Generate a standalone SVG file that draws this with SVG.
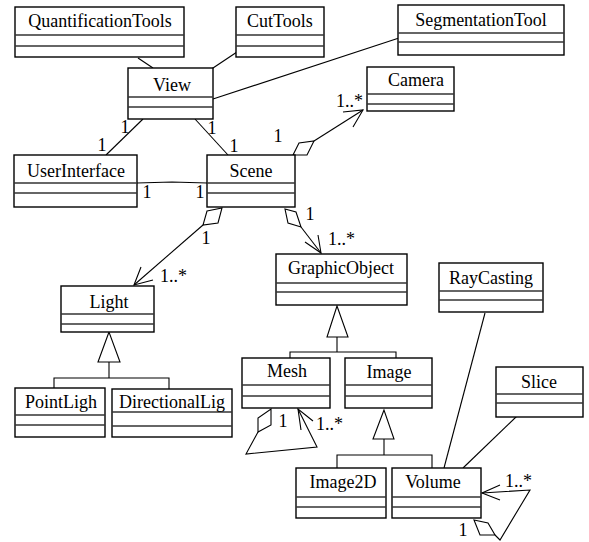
<svg xmlns="http://www.w3.org/2000/svg" width="589" height="542" viewBox="0 0 589 542">
<style>
.box{fill:#fff;stroke:#000;stroke-width:1.4}
.sep{stroke:#333;stroke-width:1.3}
.nm{font-family:"Liberation Serif","Times New Roman",serif;font-size:18px;text-anchor:middle;fill:#000}
.lb{font-family:"Liberation Serif","Times New Roman",serif;font-size:18px;fill:#000}
.c{fill:none;stroke:#000;stroke-width:1.1}
.d{fill:#fff;stroke:#000;stroke-width:1.1}
</style>
<rect width="589" height="542" fill="#fff"/>
<g id="connectors">
  <line class="c" x1="138" y1="58" x2="153" y2="68"/>
  <line class="c" x1="237" y1="52" x2="210" y2="70"/>
  <line class="c" x1="399" y1="38" x2="213" y2="99"/>
  <line class="c" x1="143" y1="119" x2="106" y2="155"/>
  <line class="c" x1="195" y1="119" x2="228" y2="155"/>
  <polyline class="c" points="137,183 172,182 207,183"/>
  <!-- Scene to Camera -->
  <polygon class="d" points="293,155 299,143 314,141 307,155"/>
  <line class="c" x1="314" y1="141" x2="363" y2="110"/>
  <polyline class="c" points="343,112 363,110 353,127"/>
  <!-- Scene to Light -->
  <polygon class="d" points="207,211 222,208 218,223 203,225"/>
  <line class="c" x1="203" y1="225" x2="134" y2="285"/>
  <polyline class="c" points="141,267 134,285 153,280"/>
  <!-- Scene to GraphicObject -->
  <polygon class="d" points="285,209 296,212 301,227 288,223"/>
  <line class="c" x1="301" y1="227" x2="321" y2="253"/>
  <polyline class="c" points="305,242 321,253 318,235"/>
  <!-- Light generalization -->
  <polygon class="d" points="109,332 98,362 120,362"/>
  <polyline class="c" points="109,362 109,378"/>
  <polyline class="c" points="54,388 54,378 169,378 169,389"/>
  <!-- GraphicObject generalization -->
  <polygon class="d" points="337,306 327,337 348,337"/>
  <polyline class="c" points="337,337 337,352"/>
  <polyline class="c" points="290,358 290,352 396,352 396,358"/>
  <!-- Image generalization -->
  <polygon class="d" points="384,410 373,439 394,439"/>
  <polyline class="c" points="384,439 384,455"/>
  <polyline class="c" points="337,468 337,455 432,455 432,468"/>
  <!-- Mesh self -->
  <polygon class="d" points="271,409 271,425 258,432 258,418"/>
  <polyline class="c" points="258,432 246,454 317,447 298,409"/>
  <polyline class="c" points="301,430 298,409 313,421"/>
  <!-- Volume links -->
  <line class="c" x1="485" y1="313" x2="444" y2="468"/>
  <line class="c" x1="517" y1="416" x2="463" y2="468"/>
  <!-- Volume self -->
  <polygon class="d" points="474,520 488,523 495,535 480,535"/>
  <polyline class="c" points="495,535 500,540 530,490 482,493"/>
  <polyline class="c" points="500,485 482,493 500,500"/>
  <!-- labels -->
  <text class="lb" x="125" y="133" text-anchor="middle">1</text>
  <text class="lb" x="102" y="151" text-anchor="middle">1</text>
  <text class="lb" x="212" y="134" text-anchor="middle">1</text>
  <text class="lb" x="234" y="152" text-anchor="middle">1</text>
  <text class="lb" x="147" y="198" text-anchor="middle">1</text>
  <text class="lb" x="200" y="198" text-anchor="middle">1</text>
  <text class="lb" x="278" y="142" text-anchor="middle">1</text>
  <text class="lb" x="336" y="107">1..*</text>
  <text class="lb" x="206" y="244" text-anchor="middle">1</text>
  <text class="lb" x="160" y="282">1..*</text>
  <text class="lb" x="310" y="220" text-anchor="middle">1</text>
  <text class="lb" x="328" y="245">1..*</text>
  <text class="lb" x="283" y="427" text-anchor="middle">1</text>
  <text class="lb" x="316" y="430">1..*</text>
  <text class="lb" x="505" y="487">1..*</text>
  <text class="lb" x="463" y="536" text-anchor="middle">1</text>
</g>
<g id="QuantificationTools">
  <rect class="box" x="15" y="7" width="169" height="50"/>
  <line class="sep" x1="15" y1="35" x2="184" y2="35"/><line class="sep" x1="15" y1="46" x2="184" y2="46"/>
  <text class="nm" x="100" y="26.5">QuantificationTools</text>
</g>
<g id="CutTools">
  <rect class="box" x="236" y="7" width="88" height="50"/>
  <line class="sep" x1="236" y1="35" x2="324" y2="35"/><line class="sep" x1="236" y1="46" x2="324" y2="46"/>
  <text class="nm" x="280" y="26.5">CutTools</text>
</g>
<g id="SegmentationTool">
  <rect class="box" x="398" y="5" width="166" height="50"/>
  <line class="sep" x1="398" y1="33" x2="564" y2="33"/><line class="sep" x1="398" y1="42" x2="564" y2="42"/>
  <text class="nm" x="481" y="26">SegmentationTool</text>
</g>
<g id="View">
  <rect class="box" x="128" y="68" width="85" height="51"/>
  <line class="sep" x1="128" y1="97" x2="213" y2="97"/><line class="sep" x1="128" y1="107" x2="213" y2="107"/>
  <text class="nm" x="172" y="90.5">View</text>
</g>
<g id="Camera">
  <rect class="box" x="367" y="67" width="87" height="44"/>
  <line class="sep" x1="367" y1="94" x2="454" y2="94"/><line class="sep" x1="367" y1="104" x2="454" y2="104"/>
  <text class="nm" x="416" y="86">Camera</text>
</g>
<g id="UserInterface">
  <rect class="box" x="14" y="155" width="123" height="52"/>
  <line class="sep" x1="14" y1="183" x2="137" y2="183"/><line class="sep" x1="14" y1="193" x2="137" y2="193"/>
  <text class="nm" x="76" y="176.5">UserInterface</text>
</g>
<g id="Scene">
  <rect class="box" x="207" y="155" width="88" height="52"/>
  <line class="sep" x1="207" y1="183" x2="295" y2="183"/><line class="sep" x1="207" y1="193" x2="295" y2="193"/>
  <text class="nm" x="251" y="177">Scene</text>
</g>
<g id="Light">
  <rect class="box" x="61" y="286" width="93" height="46"/>
  <line class="sep" x1="61" y1="314" x2="154" y2="314"/><line class="sep" x1="61" y1="324" x2="154" y2="324"/>
  <text class="nm" x="109" y="308">Light</text>
</g>
<g id="PointLigh">
  <rect class="box" x="15" y="388" width="90" height="49"/>
  <line class="sep" x1="15" y1="415" x2="105" y2="415"/><line class="sep" x1="15" y1="425" x2="105" y2="425"/>
  <text class="nm" x="61" y="408">PointLigh</text>
</g>
<g id="DirectionalLig">
  <rect class="box" x="112" y="389" width="120" height="48"/>
  <line class="sep" x1="112" y1="412" x2="232" y2="412"/><line class="sep" x1="112" y1="426" x2="232" y2="426"/>
  <text class="nm" x="172" y="408">DirectionalLig</text>
</g>
<g id="GraphicObject">
  <rect class="box" x="276" y="254" width="131" height="51"/>
  <line class="sep" x1="276" y1="283" x2="407" y2="283"/><line class="sep" x1="276" y1="292" x2="407" y2="292"/>
  <text class="nm" x="341" y="274">GraphicObject</text>
</g>
<g id="RayCasting">
  <rect class="box" x="439" y="263" width="104" height="49"/>
  <line class="sep" x1="439" y1="291" x2="543" y2="291"/><line class="sep" x1="439" y1="300" x2="543" y2="300"/>
  <text class="nm" x="491" y="284">RayCasting</text>
</g>
<g id="Mesh">
  <rect class="box" x="242" y="358" width="88" height="50"/>
  <line class="sep" x1="242" y1="385" x2="330" y2="385"/><line class="sep" x1="242" y1="396" x2="330" y2="396"/>
  <text class="nm" x="287" y="377">Mesh</text>
</g>
<g id="Image">
  <rect class="box" x="345" y="358" width="87" height="50"/>
  <line class="sep" x1="345" y1="385" x2="432" y2="385"/><line class="sep" x1="345" y1="396" x2="432" y2="396"/>
  <text class="nm" x="389" y="378">Image</text>
</g>
<g id="Slice">
  <rect class="box" x="496" y="367" width="87" height="50"/>
  <line class="sep" x1="496" y1="394" x2="583" y2="394"/><line class="sep" x1="496" y1="403" x2="583" y2="403"/>
  <text class="nm" x="539" y="388">Slice</text>
</g>
<g id="Image2D">
  <rect class="box" x="296" y="468" width="90" height="50"/>
  <line class="sep" x1="296" y1="497" x2="386" y2="497"/><line class="sep" x1="296" y1="507" x2="386" y2="507"/>
  <text class="nm" x="343" y="488">Image2D</text>
</g>
<g id="Volume">
  <rect class="box" x="392" y="468" width="89" height="50"/>
  <line class="sep" x1="392" y1="497" x2="481" y2="497"/><line class="sep" x1="392" y1="507" x2="481" y2="507"/>
  <text class="nm" x="433" y="488">Volume</text>
</g>
</svg>
